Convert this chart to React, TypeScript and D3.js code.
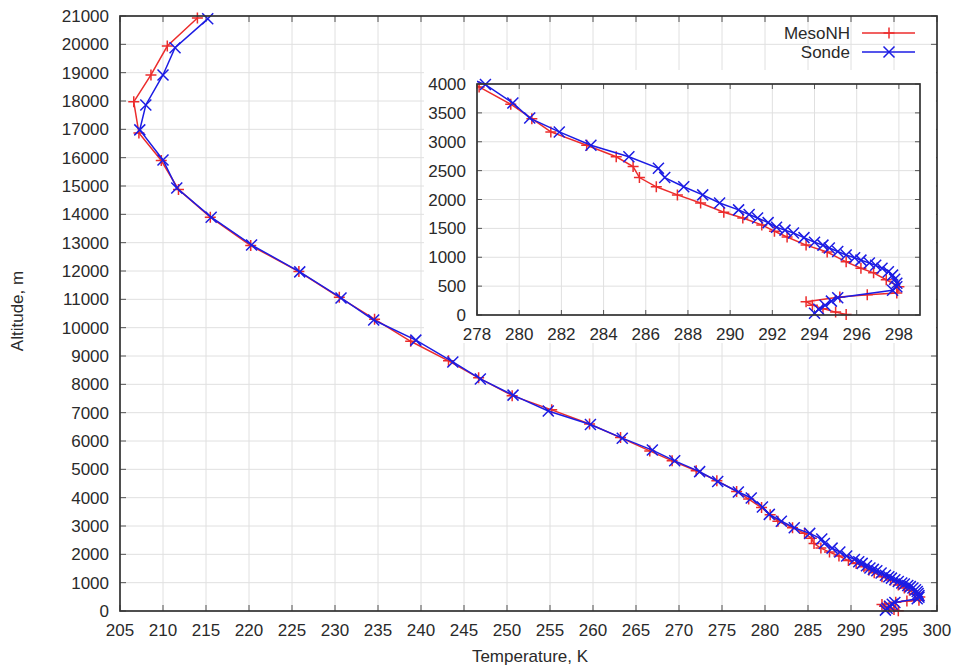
import React from "react";
import * as d3 from "d3";

// Main profile (above 4000 m)
const mesoHighT = [214.0, 210.5, 208.6, 206.6, 207.2, 209.8, 211.8, 215.5, 220.2, 225.8, 230.5, 234.6, 238.8, 243.2, 246.7, 250.6, 255.2, 259.6, 263.2, 266.6, 269.2, 272.0, 274.4, 276.7];
const mesoHighZ = [20930, 19940, 18920, 17970, 16870, 15900, 14880, 13900, 12900, 11980, 11070, 10300, 9520, 8830, 8230, 7600, 7100, 6600, 6120, 5650, 5300, 4950, 4600, 4220];
const sondeHighT = [215.2, 211.4, 210.0, 208.0, 207.3, 210.0, 211.6, 215.6, 220.3, 225.9, 230.7, 234.5, 239.4, 243.7, 246.9, 250.7, 254.8, 259.7, 263.4, 266.9, 269.5, 272.4, 274.5, 276.9];
const sondeHighZ = [20900, 19880, 18920, 17860, 16980, 15920, 14930, 13900, 12920, 11970, 11050, 10270, 9560, 8790, 8190, 7620, 7060, 6580, 6100, 5680, 5300, 4920, 4570, 4200];

// Lower profile (below 4000 m)
const mesoLowT = [278.1, 279.6, 280.6, 281.5, 283.2, 284.6, 285.4, 285.7, 286.5, 287.5, 288.6, 289.7, 290.6, 291.5, 292.1, 292.7, 293.6, 294.6, 295.5, 296.2, 296.8, 297.4, 298.0, 297.9, 296.5, 295.2, 293.6, 293.9, 294.4, 295.0, 295.5];
const mesoLowZ = [3950, 3650, 3400, 3170, 2940, 2740, 2570, 2380, 2220, 2080, 1940, 1780, 1680, 1560, 1450, 1350, 1210, 1090, 920, 810, 730, 610, 490, 380, 350, 310, 230, 170, 110, 50, 10];
const sondeLowT = [278.4, 279.7, 280.5, 281.9, 283.4, 285.2, 286.6, 286.9, 287.8, 288.7, 289.5, 290.4, 290.9, 291.3, 291.8, 292.2, 292.6, 293.0, 293.5, 294.0, 294.4, 294.7, 295.1, 295.5, 295.9, 296.2, 296.6, 296.9, 297.2, 297.5, 297.7, 297.8, 297.9, 297.9, 297.7, 295.1, 294.8, 294.5, 294.2, 294.0];
const sondeLowZ = [3990, 3670, 3410, 3170, 2940, 2740, 2540, 2380, 2220, 2080, 1940, 1820, 1740, 1680, 1600, 1520, 1470, 1420, 1340, 1260, 1210, 1160, 1100, 1040, 990, 950, 900, 860, 810, 750, 690, 620, 550, 490, 430, 300, 240, 170, 100, 30];

const mainXTicks = d3.range(205, 301, 5);
const mainYTicks = d3.range(0, 21001, 1000);
const insetXTicks = d3.range(278, 299, 2);
const insetYTicks = d3.range(0, 4001, 500);
const seriesNames = ["MesoNH", "Sonde"];

const RED = "#ec2c2c";
const BLUE = "#1c1ce4";
const FONT = "'Liberation Sans', Arial, sans-serif";
const TXT = "#2a2a2a";
const FS = 17;
const LW = 1.5;

type P = [number, number];
const zip = (a: number[], b: number[]): P[] => a.map((v, i) => [v, b[i]]);

const mesoAll = [...zip(mesoHighT, mesoHighZ), ...zip(mesoLowT, mesoLowZ)];
const sondeAll = [...zip(sondeHighT, sondeHighZ), ...zip(sondeLowT, sondeLowZ)];
const mesoInset = [[276.7, 4220] as P, ...zip(mesoLowT, mesoLowZ)];
const sondeInset = [[276.9, 4200] as P, ...zip(sondeLowT, sondeLowZ)];

function Plus({ x, y, s, c }: { x: number; y: number; s: number; c: string }) {
  return <path d={`M${x - s},${y}H${x + s}M${x},${y - s}V${y + s}`} stroke={c} strokeWidth={LW} fill="none" />;
}
function Cross({ x, y, s, c }: { x: number; y: number; s: number; c: string }) {
  return <path d={`M${x - s},${y - s}L${x + s},${y + s}M${x - s},${y + s}L${x + s},${y - s}`} stroke={c} strokeWidth={LW} fill="none" />;
}

function Panel({ x0, x1, y0, y1, xDom, yDom, xTicks, yTicks, meso, sonde, tick, clipId }: any) {
  const xs = d3.scaleLinear().domain(xDom).range([x0, x1]);
  const ys = d3.scaleLinear().domain(yDom).range([y1, y0]);
  const line = d3.line<P>().x((d) => xs(d[0])).y((d) => ys(d[1]));
  return (
    <g>
      <defs>
        <clipPath id={clipId}>
          <rect x={x0} y={y0 - 8} width={x1 - x0} height={y1 - y0 + 16} />
        </clipPath>
      </defs>
      {xTicks.map((t: number) => (
        <line key={"gx" + t} x1={xs(t)} x2={xs(t)} y1={y0} y2={y1} stroke="#e0e0e0" strokeWidth={1} />
      ))}
      {yTicks.map((t: number) => (
        <line key={"gy" + t} x1={x0} x2={x1} y1={ys(t)} y2={ys(t)} stroke="#e0e0e0" strokeWidth={1} />
      ))}
      {xTicks.map((t: number) => (
        <g key={"tx" + t}>
          <line x1={xs(t)} x2={xs(t)} y1={y1} y2={y1 - tick} stroke="#555" />
          <line x1={xs(t)} x2={xs(t)} y1={y0} y2={y0 + tick} stroke="#555" />
          <text x={xs(t)} y={y1 + 25} textAnchor="middle" fontSize={FS} fontFamily={FONT} fill={TXT}>{t}</text>
        </g>
      ))}
      {yTicks.map((t: number) => (
        <g key={"ty" + t}>
          <line x1={x0} x2={x0 + tick} y1={ys(t)} y2={ys(t)} stroke="#555" />
          <line x1={x1} x2={x1 - tick} y1={ys(t)} y2={ys(t)} stroke="#555" />
          <text x={x0 - 11} y={ys(t)} dy="0.36em" textAnchor="end" fontSize={FS} fontFamily={FONT} fill={TXT}>{t}</text>
        </g>
      ))}
      <g clipPath={`url(#${clipId})`}>
        <path d={line(meso) || ""} stroke={RED} strokeWidth={LW} fill="none" />
        {meso.map((d: P, i: number) => <Plus key={"m" + i} x={xs(d[0])} y={ys(d[1])} s={5.5} c={RED} />)}
        <path d={line(sonde) || ""} stroke={BLUE} strokeWidth={LW} fill="none" />
        {sonde.map((d: P, i: number) => <Cross key={"s" + i} x={xs(d[0])} y={ys(d[1])} s={5.5} c={BLUE} />)}
      </g>
      <rect x={x0} y={y0} width={x1 - x0} height={y1 - y0} fill="none" stroke="#333" strokeWidth={1.7} />
    </g>
  );
}

export default function App() {
  return (
    <svg width={959} height={667} style={{ position: "absolute", left: 0, top: 0, background: "#fff" }}>
      <rect x={0} y={0} width={959} height={667} fill="#fff" />
      <Panel x0={120} x1={937} y0={16} y1={611} xDom={[205, 300]} yDom={[0, 21000]}
        xTicks={mainXTicks} yTicks={mainYTicks} meso={mesoAll} sonde={sondeAll} tick={6} clipId="cm" />
      <text x={530} y={662} textAnchor="middle" fontSize={FS} fontFamily={FONT} fill={TXT}>Temperature, K</text>
      <text transform="translate(23,311) rotate(-90)" textAnchor="middle" fontSize={FS} fontFamily={FONT} fill={TXT}>Altitude, m</text>
      {/* legend */}
      <text x={850} y={39} textAnchor="end" fontSize={FS} fontFamily={FONT} fill={TXT}>{seriesNames[0]}</text>
      <line x1={862} x2={915} y1={33} y2={33} stroke={RED} strokeWidth={LW} />
      <Plus x={889} y={33} s={5.5} c={RED} />
      <text x={850} y={58} textAnchor="end" fontSize={FS} fontFamily={FONT} fill={TXT}>{seriesNames[1]}</text>
      <line x1={862} x2={915} y1={52} y2={52} stroke={BLUE} strokeWidth={LW} />
      <Cross x={889} y={52} s={5.5} c={BLUE} />
      {/* inset */}
      <rect x={424} y={70} width={512} height={273} fill="#fff" />
      <Panel x0={477} x1={920} y0={84} y1={315} xDom={[278, 299]} yDom={[0, 4000]}
        xTicks={insetXTicks} yTicks={insetYTicks} meso={mesoInset} sonde={sondeInset} tick={5} clipId="ci" />
    </svg>
  );
}
